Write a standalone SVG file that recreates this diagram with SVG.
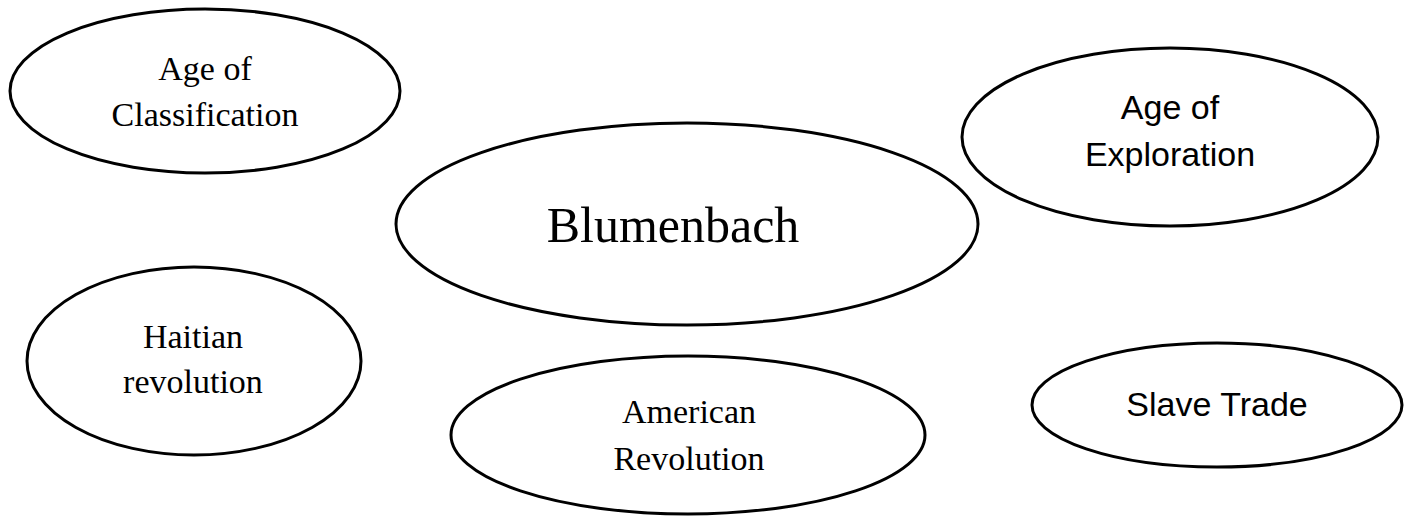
<svg xmlns="http://www.w3.org/2000/svg" width="1413" height="516" viewBox="0 0 1413 516">
<style>
.node ellipse{fill:#fff;stroke:#000;stroke-width:3}
.serif{font-family:"Liberation Serif","Times New Roman",serif;fill:#000;text-anchor:middle}
.sans{font-family:"Liberation Sans",Arial,sans-serif;fill:#000;text-anchor:middle}
</style>
<rect width="1413" height="516" fill="#fff"/>
<g id="connectors"></g>
<g id="age-classification" class="node">
<ellipse cx="205" cy="91" rx="195" ry="82"/>
<text class="serif" font-size="34" x="205" y="80">Age of</text>
<text class="serif" font-size="34" x="205" y="126">Classification</text>
</g>
<g id="blumenbach" class="node">
<ellipse cx="687" cy="224" rx="291" ry="101"/>
<text class="serif" font-size="50" x="673" y="242">Blumenbach</text>
</g>
<g id="age-exploration" class="node">
<ellipse cx="1170" cy="137" rx="208" ry="89"/>
<text class="sans" font-size="34" x="1170" y="119">Age of</text>
<text class="sans" font-size="34" x="1170" y="166">Exploration</text>
</g>
<g id="haitian-revolution" class="node">
<ellipse cx="194" cy="361" rx="167" ry="94"/>
<text class="serif" font-size="34" x="193" y="348">Haitian</text>
<text class="serif" font-size="34" x="193" y="393">revolution</text>
</g>
<g id="american-revolution" class="node">
<ellipse cx="688" cy="435" rx="237" ry="79"/>
<text class="serif" font-size="34" x="689" y="423">American</text>
<text class="serif" font-size="34" x="689" y="470">Revolution</text>
</g>
<g id="slave-trade" class="node">
<ellipse cx="1217" cy="405" rx="185" ry="62"/>
<text class="sans" font-size="34" x="1217" y="416">Slave Trade</text>
</g>
</svg>
